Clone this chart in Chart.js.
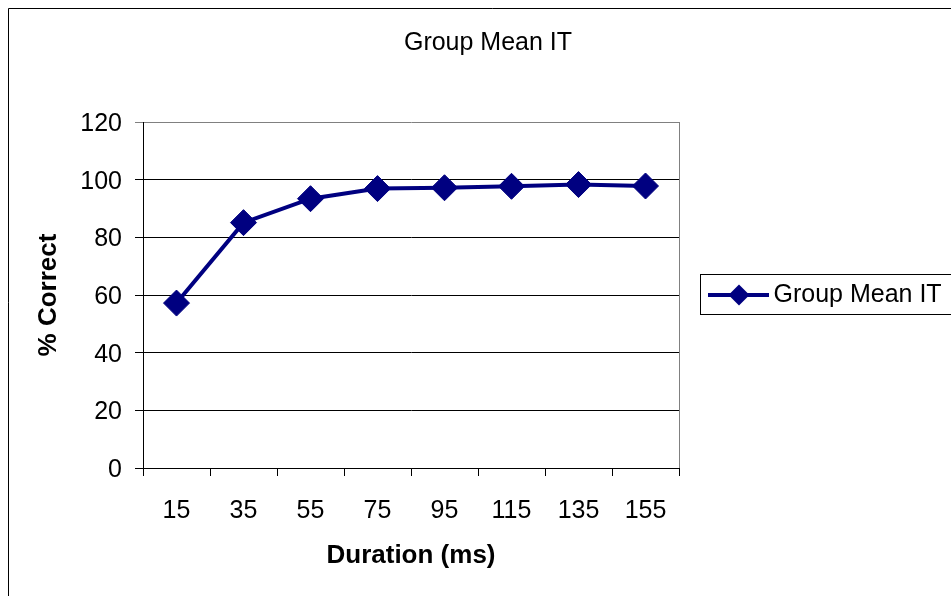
<!DOCTYPE html>
<html><head><meta charset="utf-8">
<script src="https://cdn.jsdelivr.net/npm/chart.js@4"></script>
<style>html,body{margin:0;padding:0;background:#fff;overflow:hidden;} canvas{display:block;}</style>
</head><body>
<canvas id="c" width="976" height="596"></canvas>
<script>
const durations = ['15','35','55','75','95','115','135','155'];
const groupMeanIT = [57.2, 85.1, 93.4, 96.9, 97.2, 97.7, 98.3, 97.8];
const yTickValues = [0, 20, 40, 60, 80, 100, 120];
const seriesName = 'Group Mean IT';
const chartTitle = 'Group Mean IT';
const xTitle = 'Duration (ms)';
const yTitle = '% Correct';

const NAVY = '#000080';
Chart.defaults.font.family = "'Liberation Sans', Arial, Helvetica, sans-serif";
Chart.defaults.color = '#000';

// legend swatch: line with diamond
const sw = document.createElement('canvas');
sw.width = 100; sw.height = 30;
const sc = sw.getContext('2d');
sc.strokeStyle = NAVY; sc.lineWidth = 4;
sc.beginPath(); sc.moveTo(33, 15); sc.lineTo(94, 15); sc.stroke();
sc.fillStyle = NAVY;
sc.beginPath(); sc.moveTo(53.5, 15); sc.lineTo(64, 4.5); sc.lineTo(74.5, 15); sc.lineTo(64, 25.5); sc.closePath(); sc.fill();

const frame = {
  id: 'frame',
  afterInit(chart) {
    const lg = chart.legend;
    if (lg) {
      const f = lg.fit;
      lg.fit = function () { f.call(this); this.width = 297; };
    }
  },
  beforeDraw(chart) {
    const c = chart.ctx;
    c.save();
    c.fillStyle = '#fff';
    c.fillRect(0, 0, chart.width, chart.height);
    c.strokeStyle = '#000'; c.lineWidth = 1;
    c.beginPath(); c.moveTo(8.5, chart.height + 5); c.lineTo(8.5, 8.5); c.lineTo(chart.width + 5, 8.5); c.stroke();
    c.restore();
  },
  beforeDatasetsDraw(chart) {
    const a = chart.chartArea, c = chart.ctx;
    const x = Math.round(a.right) + 0.5;
    c.save(); c.strokeStyle = '#808080'; c.lineWidth = 1;
    c.beginPath(); c.moveTo(x, a.top); c.lineTo(x, a.bottom); c.stroke();
    c.restore();
  },
  afterDraw(chart) {
    const lg = chart.legend;
    if (!lg || !lg.legendHitBoxes || !lg.legendHitBoxes.length) return;
    const hb = lg.legendHitBoxes[0];
    const c = chart.ctx;
    const l = Math.round(lg.left + 21) + 0.5;
    const t = Math.floor(hb.top - 8) + 0.5;
    const b = Math.floor(hb.top + 32) + 0.5;
    c.save(); c.strokeStyle = '#000'; c.lineWidth = 1;
    c.strokeRect(l, t, chart.width + 20 - l, b - t);
    c.restore();
  }
};

new Chart(document.getElementById('c'), {
  type: 'line',
  data: {
    labels: durations,
    datasets: [{
      label: seriesName,
      data: groupMeanIT,
      borderColor: NAVY,
      backgroundColor: NAVY,
      borderWidth: 4,
      pointStyle: 'rectRot',
      pointRadius: 13,
      pointBorderWidth: 1,
      pointBackgroundColor: NAVY,
      pointBorderColor: NAVY,
      tension: 0,
      fill: false,
      clip: false
    }]
  },
  options: {
    responsive: false,
    animation: false,
    devicePixelRatio: 1,
    events: [],
    layout: { padding: 0 },
    scales: {
      x: {
        type: 'category',
        offset: true,
        grid: { display: true, offset: true, drawOnChartArea: false, drawTicks: true, tickLength: 8, color: '#000', lineWidth: 1 },
        border: { display: true, color: '#000', width: 1 },
        ticks: { font: { size: 25 }, color: '#000', padding: 20, maxRotation: 0, autoSkip: false },
        title: { display: true, text: xTitle, font: { size: 26, weight: 'bold' }, color: '#000', padding: { top: 0, bottom: 25 } },
        afterFit(s) { s.height = 128; }
      },
      y: {
        min: 0, max: 120,
        afterBuildTicks(s) { s.ticks = yTickValues.map(v => ({ value: v })); },
        ticks: { font: { size: 25 }, color: '#000', padding: 13, labelOffset: 2 },
        grid: { color: (ctx) => (ctx.tick && ctx.tick.value === 120 ? '#808080' : '#000'), tickLength: 8, drawTicks: true, lineWidth: 1 },
        border: { display: true, color: '#000', width: 1 },
        title: { display: true, text: yTitle, font: { size: 26, weight: 'bold' }, color: '#000', padding: { top: 33, bottom: 0 } },
        afterFit(s) { s.width = 143; }
      }
    },
    plugins: {
      title: { display: true, text: chartTitle, font: { size: 25, weight: 'normal' }, color: '#000', padding: { top: 28, bottom: 64 } },
      legend: {
        display: true, position: 'right', fullSize: false, align: 'center',
        labels: { usePointStyle: true, pointStyle: sw, pointStyleWidth: 72, padding: 10, font: { size: 25 }, color: '#000' }
      },
      tooltip: { enabled: false }
    }
  },
  plugins: [frame]
});
</script>
</body></html>
